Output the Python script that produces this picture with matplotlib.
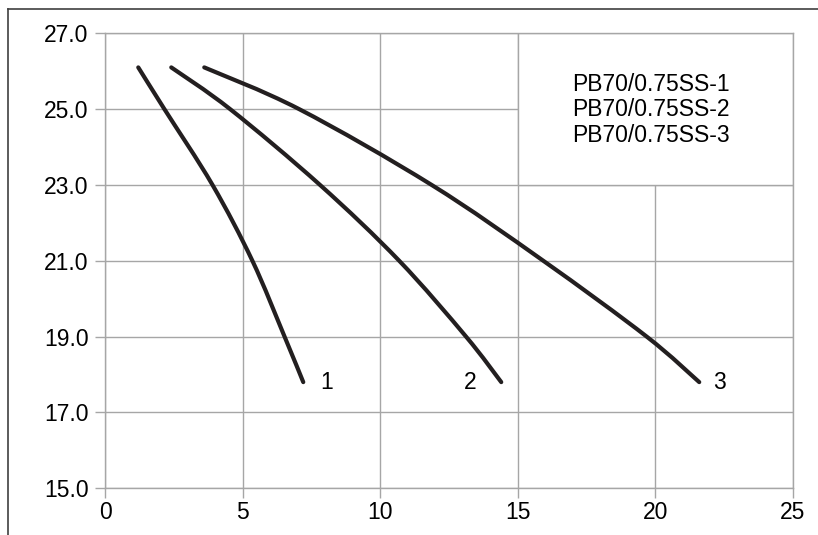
import matplotlib.pyplot as plt
from matplotlib.patches import Rectangle, PathPatch
from matplotlib.path import Path
from matplotlib.lines import Line2D

plt.rcParams['font.family'] = ['Liberation Sans', 'DejaVu Sans']

# curve data (flow vs head)
heads = [26.1, 25.0, 23.0, 21.0, 19.0, 17.8]
q1 = [1.2, 2.15, 3.9, 5.35, 6.52, 7.2]
q2 = [2.4, 4.54, 7.81, 10.69, 13.12, 14.4]
q3 = [3.6, 7.05, 11.87, 15.93, 19.69, 21.6]
curve_tags = ['1', '2', '3']
series_names = ['PB70/0.75SS-1', 'PB70/0.75SS-2', 'PB70/0.75SS-3']
x_ticks = [0, 5, 10, 15, 20, 25]
y_ticks = [15, 17, 19, 21, 23, 25, 27]

grid_col = '#a6a6a6'
line_col = '#231f20'
fs = 16.5


def smooth_path(xs, ys):
    # Catmull-Rom through the points, drawn as cubic bezier segments
    pts = list(zip(xs, ys))
    ext = [pts[0]] + pts + [pts[-1]]
    verts = [pts[0]]
    codes = [Path.MOVETO]
    for i in range(1, len(ext) - 2):
        p0, p1, p2, p3 = ext[i - 1], ext[i], ext[i + 1], ext[i + 2]
        c1 = (p1[0] + (p2[0] - p0[0]) / 6, p1[1] + (p2[1] - p0[1]) / 6)
        c2 = (p2[0] - (p3[0] - p1[0]) / 6, p2[1] - (p3[1] - p1[1]) / 6)
        verts += [c1, c2, p2]
        codes += [Path.CURVE4] * 3
    return Path(verts, codes)


fig = plt.figure(figsize=(8.18, 5.35), dpi=100)
ax = fig.add_axes([0.1287, 0.0873, 0.8404, 0.8505])

# outer frame, only top and left edges show
fig.add_artist(Line2D([0.0101, 1.0], [0.9826, 0.9826], color='#404040', lw=1.2))
fig.add_artist(Line2D([0.0101, 0.0101], [0.0, 0.9826], color='#404040', lw=1.2))

ax.set_xlim(0, 25)
ax.set_ylim(15, 27)
ax.set_xticks(x_ticks)
ax.set_yticks(y_ticks)
ax.set_xticklabels([str(v) for v in x_ticks], fontsize=fs)
ax.set_yticklabels(['%.1f' % v for v in y_ticks], fontsize=fs)
ax.tick_params(axis='both', color=grid_col, length=7, width=1, direction='out')
ax.tick_params(axis='x', pad=2)
ax.tick_params(axis='y', pad=5)
ax.grid(True, color=grid_col, lw=1)
ax.set_axisbelow(True)
for sp in ax.spines.values():
    sp.set_color(grid_col)
    sp.set_linewidth(1)

# legend box sits over the grid in the top right corner
ax.add_patch(Rectangle((15, 23), 10, 4, facecolor='white', edgecolor=grid_col,
                       lw=1, zorder=1.5))
for i, name in enumerate(series_names):
    ax.text(16.98, 25.66 - i * 0.672, name, fontsize=fs, va='center', ha='left',
            color='black', zorder=3)

offsets = [(12, 0, 'left'), (-18, 0, 'right'), (10, 0, 'left')]
for q, tag, (dx, dy, ha) in zip([q1, q2, q3], curve_tags, offsets):
    ax.add_patch(PathPatch(smooth_path(q, heads), fill=False, edgecolor=line_col,
                           lw=3, capstyle='round', joinstyle='round', zorder=4))
    ax.annotate(tag, xy=(q[-1], heads[-1]), xytext=(dx, dy), textcoords='offset points',
                ha=ha, va='center', fontsize=fs, color='black')

fig.savefig('out.png', dpi=100)
